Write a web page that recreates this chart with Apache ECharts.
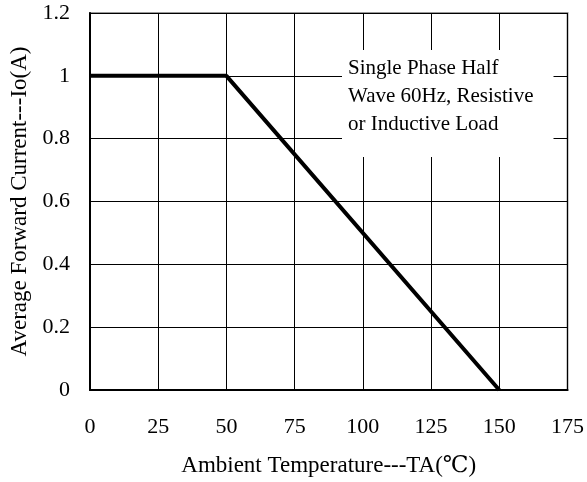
<!DOCTYPE html>
<html>
<head>
<meta charset="utf-8">
<script src="https://cdn.jsdelivr.net/npm/echarts@6/dist/echarts.min.js"></script>
<style>html,body{margin:0;padding:0;background:#fff}#c{width:587px;height:482px}</style>
</head>
<body>
<div id="c"></div>
<script>
const temperatures = [0, 50, 150];
const currents = [1, 1, 0];
const xTicks = [0, 25, 50, 75, 100, 125, 150, 175];
const yTicks = [0, 0.2, 0.4, 0.6, 0.8, 1, 1.2];
const xTitle = 'Ambient Temperature---TA(\u2103)';
const yTitle = 'Average Forward Current---Io(A)';
const noteLines = ['Single Phase Half', 'Wave 60Hz, Resistive', 'or Inductive Load'];

const FONT = '"Liberation Serif", "DejaVu Serif", serif';
const chart = echarts.init(document.getElementById('c'), null, {renderer: 'canvas'});
chart.setOption({
  backgroundColor: '#fff',
  animation: false,
  title: {
    text: noteLines.join('\n'),
    left: 342, top: 50,
    padding: [4, 20, 19, 6],
    backgroundColor: '#fff',
    textStyle: {fontFamily: FONT, fontSize: 21, fontWeight: 'normal', color: '#000', lineHeight: 28}
  },
  grid: {
    left: 88, top: 13, right: 19, bottom: 91,
    show: true, borderColor: '#999', borderWidth: 2, backgroundColor: 'transparent'
  },
  xAxis: {
    type: 'value', min: xTicks[0], max: xTicks[xTicks.length - 1], interval: 25,
    name: xTitle, nameLocation: 'middle', nameGap: 64,
    nameTextStyle: {fontFamily: FONT, fontSize: 23, color: '#000'},
    axisLine: {show: true, lineStyle: {color: '#000', width: 2}},
    axisTick: {show: false},
    axisLabel: {margin: 26, fontFamily: FONT, fontSize: 22, color: '#000'},
    splitLine: {show: true, lineStyle: {color: '#000', width: 1}}
  },
  yAxis: {
    type: 'value', min: yTicks[0], max: yTicks[yTicks.length - 1], interval: 0.2,
    name: yTitle, nameLocation: 'middle', nameGap: 59,
    nameTextStyle: {fontFamily: FONT, fontSize: 23, color: '#000'},
    axisLine: {show: true, lineStyle: {color: '#000', width: 2}},
    axisTick: {show: false},
    axisLabel: {margin: 20, fontFamily: FONT, fontSize: 22, color: '#000',
      formatter: v => String(parseFloat(v.toFixed(1)))},
    splitLine: {show: true, lineStyle: {color: '#000', width: 1}}
  },
  series: [{
    type: 'line',
    data: temperatures.map((t, i) => [t, currents[i]]),
    showSymbol: false, symbol: 'none',
    lineStyle: {color: '#000', width: 4},
    z: 3
  }]
});
</script>
</body>
</html>
